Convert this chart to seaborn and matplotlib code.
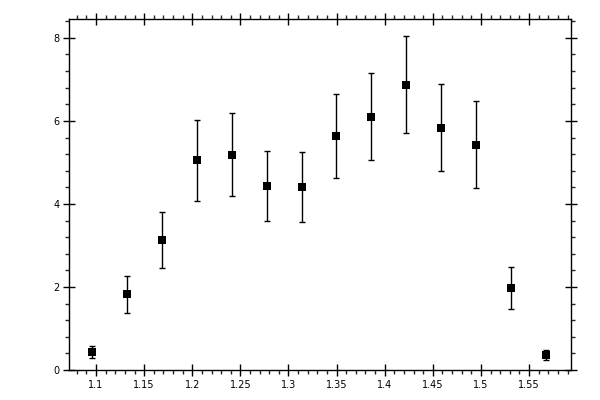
import matplotlib
matplotlib.use("Agg")
import matplotlib.pyplot as plt
import seaborn as sns
import pandas as pd
from matplotlib.ticker import MultipleLocator, FormatStrFormatter

x_vals = [1.0962, 1.1325, 1.1689, 1.2053, 1.2417, 1.2781, 1.3145,
          1.3498, 1.3862, 1.4226, 1.4590, 1.4954, 1.5317, 1.5681]
y_vals = [0.44, 1.82, 3.14, 5.05, 5.19, 4.43, 4.41,
          5.64, 6.10, 6.87, 5.84, 5.43, 1.98, 0.37]
y_err = [0.145, 0.446, 0.675, 0.976, 1.0, 0.84, 0.84,
         1.01, 1.05, 1.17, 1.05, 1.04, 0.50, 0.12]

df = pd.DataFrame({"x": x_vals, "y": y_vals, "err": y_err})

sns.set_style("ticks")
plt.rcParams['font.family'] = ['DejaVu Sans']

fig = plt.figure(figsize=(6, 4), dpi=100)
ax = fig.add_axes([0.115, 0.075, 0.836, 0.877])

ax.errorbar(df["x"], df["y"], yerr=df["err"], fmt="none", ecolor="black",
            elinewidth=1.0, capsize=2.2, capthick=1.0, zorder=2)
sns.scatterplot(data=df, x="x", y="y", marker="s", s=30, color="black",
                linewidth=0, ax=ax, zorder=3)

ax.set_xlim(1.0719, 1.5932)
ax.set_ylim(0, 8.45)
ax.set_xlabel("")
ax.set_ylabel("")

ax.xaxis.set_major_locator(MultipleLocator(0.05))
ax.xaxis.set_minor_locator(MultipleLocator(0.01))
ax.yaxis.set_major_locator(MultipleLocator(2))
ax.yaxis.set_minor_locator(MultipleLocator(0.4))
ax.xaxis.set_major_formatter(FormatStrFormatter("%g"))
ax.yaxis.set_major_formatter(FormatStrFormatter("%g"))

for s in ax.spines.values():
    s.set_visible(True)
    s.set_linewidth(1.0)
    s.set_color("black")

ax.tick_params(which="major", direction="inout", length=9, width=1.0,
               top=True, right=True, labelsize=7, colors="black")
ax.tick_params(which="minor", direction="out", length=3, width=1.0,
               top=True, right=True)
ax.tick_params(axis="x", which="major", pad=3)
ax.tick_params(axis="y", which="major", pad=2)

fig.savefig("out.png", dpi=100)
